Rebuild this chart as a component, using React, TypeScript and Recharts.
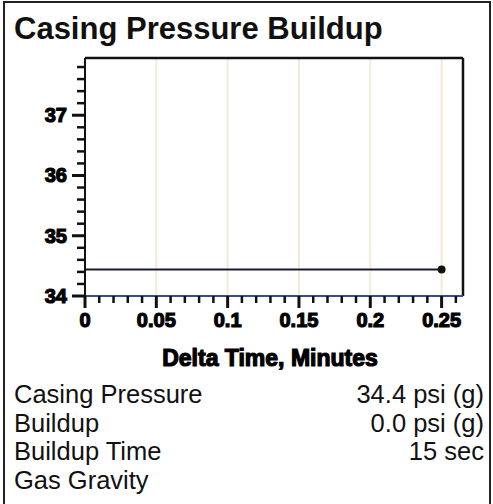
import React from "react";
import { LineChart, Line, XAxis, YAxis, ReferenceLine } from "recharts";

const deltaTimeMin = [0, 0.25];
const casingPressure = [34.44, 34.44];
const xMajorTicks = [0, 0.05, 0.1, 0.15, 0.2, 0.25];
const xMajorLabels = ["0", "0.05", "0.1", "0.15", "0.2", "0.25"];
const xMinorTicks = [
  0, 0.01, 0.02, 0.03, 0.04, 0.05, 0.06, 0.07, 0.08, 0.09, 0.1, 0.11, 0.12, 0.13,
  0.14, 0.15, 0.16, 0.17, 0.18, 0.19, 0.2, 0.21, 0.22, 0.23, 0.24, 0.25, 0.26,
];
const yMajorTicks = [34, 35, 36, 37];
const yMajorLabels = ["34", "35", "36", "37"];
const yMinorTicks = [
  34, 34.2, 34.4, 34.6, 34.8, 35, 35.2, 35.4, 35.6, 35.8, 36, 36.2, 36.4, 36.6,
  36.8, 37, 37.2, 37.4, 37.6, 37.8,
];
const xDomain = [0, 0.265];
const yDomain = [34, 37.95];
const title = "Casing Pressure Buildup";
const xAxisTitle = "Delta Time, Minutes";
const tableLabels = ["Casing Pressure", "Buildup", "Buildup Time", "Gas Gravity"];
const tableValues = ["34.4 psi (g)", "0.0 psi (g)", "15 sec", ""];

const data = deltaTimeMin.map((t, i) => ({ t, p: casingPressure[i] }));

const tickFont = {
  fontFamily: "'Liberation Sans', Arial, sans-serif",
  fontWeight: 700,
  fontSize: 20,
};

const findIdx = (arr: number[], v: number) => arr.findIndex((m) => Math.abs(m - v) < 1e-6);

const XTick = (props: any) => {
  const { x, y, payload } = props;
  const idx = findIdx(xMajorTicks, payload.value);
  const major = idx >= 0;
  return (
    <g>
      <line x1={x} x2={x} y1={y} y2={y + (major ? 12 : 7)} stroke="#111" strokeWidth={major ? 3 : 2.5} />
      {major && (
        <text x={x} y={y + 31} textAnchor="middle" fill="#000" stroke="#000" strokeWidth={1.2} style={tickFont}>
          {xMajorLabels[idx]}
        </text>
      )}
    </g>
  );
};

const YTick = (props: any) => {
  const { x, y, payload } = props;
  const idx = findIdx(yMajorTicks, payload.value);
  const major = idx >= 0;
  return (
    <g>
      <line x1={x - (major ? 13 : 8)} x2={x} y1={y} y2={y} stroke="#111" strokeWidth={major ? 3 : 2.5} />
      {major && (
        <text x={x - 18} y={y + 7} textAnchor="end" fill="#000" stroke="#000" strokeWidth={1.2} style={tickFont}>
          {yMajorLabels[idx]}
        </text>
      )}
    </g>
  );
};

const EndDot = (props: any) => {
  const { cx, cy, index } = props;
  if (index !== data.length - 1) return <g key={index} />;
  return <circle key={index} cx={cx} cy={cy} r={4} fill="#111" />;
};

export default function App() {
  return (
    <div
      style={{
        position: "absolute",
        left: 0,
        top: 0,
        width: 493,
        height: 504,
        background: "#fff",
        overflow: "hidden",
        fontFamily: "'Liberation Sans', Arial, sans-serif",
      }}
    >
      <div
        style={{
          position: "absolute",
          left: 3,
          top: 1,
          width: 484,
          height: 530,
          border: "2px solid #222",
        }}
      />
      <div
        style={{
          position: "absolute",
          left: 14,
          top: 11,
          fontSize: 31,
          fontWeight: 700,
          color: "#111",
          whiteSpace: "nowrap",
        }}
      >
        {title}
      </div>
      <div style={{ position: "absolute", left: 0, top: 0 }}>
        <LineChart width={493} height={504} data={data} margin={{ top: 58, right: 30, bottom: 168, left: 25 }}>
          <XAxis
            dataKey="t"
            type="number"
            domain={xDomain}
            ticks={xMinorTicks}
            interval={0}
            allowDataOverflow
            height={40}
            tickSize={0}
            tickMargin={0}
            tickLine={false}
            axisLine={{ stroke: "#34508a", strokeWidth: 2 }}
            tick={<XTick />}
          />
          <YAxis
            type="number"
            domain={yDomain}
            ticks={yMinorTicks}
            interval={0}
            allowDataOverflow
            width={60}
            tickSize={0}
            tickMargin={0}
            tickLine={false}
            axisLine={{ stroke: "#111", strokeWidth: 2 }}
            tick={<YTick />}
          />
          {xMajorTicks.slice(1).map((v) => (
            <ReferenceLine key={v} x={v} stroke="#f1ebd6" strokeWidth={2} />
          ))}
          <ReferenceLine y={yDomain[1]} stroke="#111" strokeWidth={2.5} />
          <ReferenceLine x={xDomain[1]} stroke="#111" strokeWidth={2.5} />
          <Line
            dataKey="p"
            stroke="#1b1b2b"
            strokeWidth={2}
            dot={<EndDot />}
            isAnimationActive={false}
          />
        </LineChart>
      </div>
      <div
        style={{
          position: "absolute",
          left: 120,
          width: 300,
          top: 345,
          textAlign: "center",
          fontSize: 23,
          fontWeight: 700,
          color: "#000",
          WebkitTextStroke: "1.2px #000",
          whiteSpace: "nowrap",
        }}
      >
        {xAxisTitle}
      </div>
      <div style={{ position: "absolute", left: 14, top: 380, width: 470 }}>
        {tableLabels.map((lab, i) => (
          <div
            key={lab}
            style={{
              display: "flex",
              justifyContent: "space-between",
              fontSize: 25.5,
              lineHeight: "28.5px",
              color: "#111",
            }}
          >
            <span>{lab}</span>
            <span>{tableValues[i]}</span>
          </div>
        ))}
      </div>
    </div>
  );
}
